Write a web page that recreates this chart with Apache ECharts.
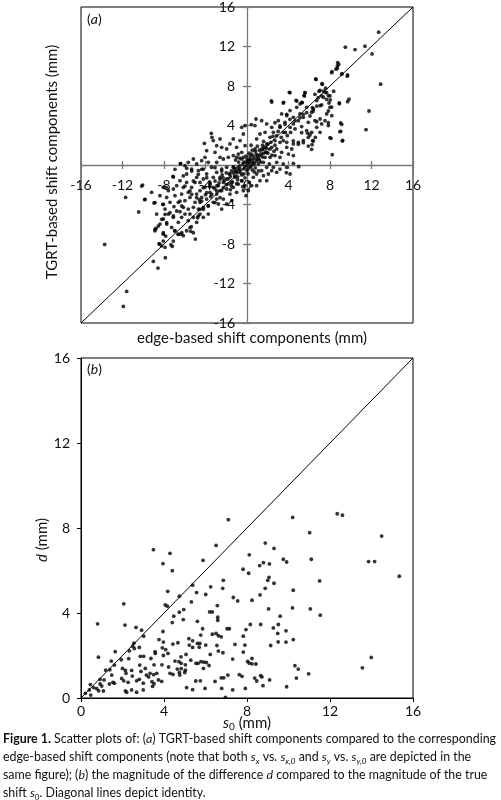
<!DOCTYPE html>
<html>
<head>
<meta charset="utf-8">
<script src="https://cdn.jsdelivr.net/npm/echarts@6/dist/echarts.min.js"></script>
<style>html,body{margin:0;padding:0;background:#fff;}#c{width:501px;height:800px;}</style>
</head>
<body>
<div id="c"></div>
<script>
// Panel (a): [edge-based shift, TGRT-based shift] (mm)
var pointsA = [
[12.69,13.45],[9.48,11.93],[10.41,11.69],[11.37,12.03],[12.05,11.25],[12.88,8.18],[11.76,5.47],[11.47,3.58],
[8.74,10.37],[8.71,10.03],[8.58,9.7],[8.19,9.46],[9.16,9.26],[9.7,9.12],[6.62,8.72],[7.23,8.24],[5.59,7.33],
[7.58,7.77],[8.35,7.47],[6.94,7.47],[4.08,7.36],[2.35,6.49],[3.53,6.35],[4.72,6.55],[9.83,6.66],[8.9,6.28],
[8.03,6.59],[7.9,6.28],[9.03,4.26],[9.03,3.41],[9.22,2.5],[8.0,2.77],[8.22,1.05],[6.33,2.47],[5.85,3.21],
[4.98,-0.17],[4.47,0.17],[3.79,-0.78],
[5.5,7.03],[5.27,6.35],[5.75,5.84],[6.23,5.34],[6.4,5.68],[6.72,6.52],[7.04,6.01],[7.36,6.86],[7.52,7.36],
[7.84,7.03],[8.0,5.84],[8.17,5.0],[7.68,5.17],[7.04,4.66],[6.55,4.49],[5.91,4.32],[5.43,4.83],[5.11,5.17],
[4.95,4.49],[4.47,4.16],[4.15,3.82],[4.63,3.65],[5.27,3.89],[5.75,3.48],[6.23,3.31],[5.91,2.8],[5.43,2.47],
[4.95,2.3],[4.47,2.13],[4.31,1.62],[3.99,1.11],[4.47,0.95],[3.83,1.79],[3.5,2.47],[3.89,2.97],[3.5,3.31],
[3.18,3.82],[3.67,4.32],[3.02,4.49],[3.83,5.0],[3.34,5.17],[4.15,5.51],[4.79,5.84],[5.11,6.18],[4.47,4.83],
[6.72,3.82],[7.2,4.16],[7.52,4.49],[7.04,3.31],[7.84,3.99],[6.59,2.8],[6.27,2.06],
[8.84,10.2],[8.7,9.8],[8.16,9.35],[9.13,9.18],[9.67,9.0],[6.65,8.67],[7.26,8.17],[2.38,6.38],[3.5,6.28],
[4.14,7.32],[5.59,7.32],[5.53,6.99],[4.79,6.48],[5.33,6.31],[6.55,7.16],[7.04,7.56],[7.36,7.49],[7.68,7.32],
[6.87,6.82],[7.2,6.99],[7.68,6.65],[8.0,6.99],[8.9,6.21],[9.7,6.41],[8.16,5.87],[7.84,5.47],[7.2,6.08],
[6.72,5.97],[6.39,5.47],[6.07,4.96],[6.3,5.8],[5.75,5.3],[5.43,5.13],[5.11,4.79],[4.63,4.46],[4.14,4.63],
[3.83,5.13],[3.66,4.12],[3.18,3.95],[2.7,4.28],[6.72,4.39],[7.84,4.28],[9.13,4.12],[8.96,3.37],[8.1,2.7],
[9.19,2.43],[6.07,3.04],[6.39,2.43],[5.27,3.27],[4.46,2.43],[4.95,2.1],[5.43,2.26],[5.91,1.92],[6.23,1.59],
[2.54,3.31],[2.22,2.8],[2.7,2.47],[1.9,2.13],[2.38,1.79],[1.58,1.62],[2.86,1.62],[3.34,1.28],[1.9,1.28],
[1.25,0.95],[1.74,0.78],[2.22,0.78],[2.7,0.95],[3.18,0.78],[0.93,0.61],[0.61,0.27],[1.09,0.1],[1.58,0.27],
[2.86,0.27],[3.5,0.1],[0.77,1.62],[0.45,1.11],[0.29,0.61],[0.93,2.64],[1.25,3.14],[1.74,3.31],[0.77,3.99],
[0.42,4.09],[0.87,4.66],[1.41,4.49],[1.9,4.16],[2.38,3.82],[2.86,2.97],[3.18,2.3],[3.83,2.3],[2.15,0.1],
[2.54,-0.24],[3.18,-0.41],[3.83,-0.24],[2.38,-0.57],[1.9,-0.24],[1.41,-0.57],[0.93,-0.91],[0.61,-1.25],
[0.45,-2.09],[0.13,-2.6],[-0.1,-3.11],[0.22,-1.76],[1.58,-1.08],[2.06,-0.91],
[0,0],[0.3,0.5],[-0.3,-0.4],[0.6,0.9],[-0.6,-0.8],[0.9,0.4],[-0.9,-0.3],[0.2,1.2],[-0.2,-1.3],[1.2,1.5],
[-1.2,-1.1],[0.5,-0.5],[-0.5,0.6],[1.5,0.8],[-1.5,-0.6],[1.0,1.9],[-1.0,-1.9],[0.1,-0.9],[-0.1,0.9],
[1.8,1.3],[-1.8,-1.4],[0.7,0.1],[-0.7,-0.1],[1.3,0.3],[-1.3,-0.2],[0.4,2.0],[-0.4,-2.2],[2.0,2.1],
[-2.0,-2.0],[1.6,2.4],[-1.6,-2.5],[0.8,-0.3],[-0.8,0.3],[2.4,1.0],[-2.4,-1.0],[1.1,-0.6],[-1.1,0.5],
[0.2,0.2],[-0.2,-0.2],[1.4,1.1],[-1.4,-1.7],[0.5,0.2],[-0.4,0.1],[0.1,0.4],[0.9,1.1],[-0.9,-1.2],
[1.7,1.8],[-1.7,-0.9],[0.3,-0.2],[-0.3,0.3],[1.1,0.7],[-1.1,-0.6],[2.2,1.6],[-2.2,-1.6],
[0.6,0.6],[1.0,0.9],[1.4,1.6],[1.9,1.7],[2.3,2.3],[2.7,2.0],[3.0,3.4],[2.5,2.9],[1.6,1.2],[0.8,1.4],
[0.3,0.9],[-0.3,-0.9],[-0.8,-0.6],[-1.3,-0.8],[-1.8,-1.9],[-2.3,-1.3],[-2.7,-1.8],[-3.1,-2.4],[-3.5,-3.2],
[-2.9,-2.1],[-1.6,-1.2],[-0.9,-1.5],[-0.5,-1.0],[0.1,-0.4],[0.4,-0.1],[-0.1,0.3],[1.2,0.5],[-1.2,-0.4],
[2.0,1.2],[-2.0,-0.8],[3.3,2.8],[3.7,3.3],[4.2,3.3],[-3.6,-2.2],[-4.0,-3.0],[-4.6,-3.5],[0.7,-0.7],
[-0.7,0.7],[1.5,2.0],[-1.5,-2.1],[2.6,1.4],[-2.6,-2.6],[0.0,0.6],[0.0,-0.6],[0.5,1.5],[-0.5,-1.6],
[-1.32,2.64],[-1.64,2.13],[-1.0,1.79],[-0.67,2.47],[-0.35,3.14],[-0.51,3.82],[-0.19,3.99],[-0.84,1.11],
[-1.32,0.95],[-1.8,0.78],[-2.28,0.61],[-2.6,0.78],[-2.92,0.27],[-3.08,1.28],[-3.89,1.45],[-4.05,0.78],
[-3.73,0.27],[-4.37,0.44],[-4.85,0.1],[-5.17,0.61],[-5.66,0.27],[-1.96,1.62],[-2.44,1.79],[-2.92,1.96],
[-3.25,2.47],[-2.6,2.64],[-1.0,0.78],[-0.51,1.28],[-0.35,0.78],[-0.19,1.96],[-3.44,3.21],[-3.38,2.8],
[-6.43,0.14],[-4.11,2.2],
[1.25,-1.59],[0.93,-2.09],[1.9,-1.59],[2.86,-0.74],[4.15,-0.91],
[-0.67,-0.41],[-1.0,-0.74],[-1.32,-0.24],[-1.64,-0.91],[-1.16,-1.25],[-1.96,-1.42],[-1.48,-1.76],
[-2.28,-1.76],[-2.6,-1.25],[-2.92,-0.74],[-3.25,-1.25],[-3.57,-1.76],[-3.89,-0.91],[-4.21,-1.42],
[-4.53,-1.76],[-4.05,-2.26],[-4.53,-2.6],[-4.85,-2.94],[-4.37,-3.28],[-3.89,-3.45],[-3.57,-2.77],
[-3.25,-2.26],[-2.76,-2.09],[-2.44,-2.6],[-2.92,-2.94],[-1.96,-2.43],[-1.64,-2.94],[-2.28,-3.45],
[-2.76,-3.95],[-3.25,-3.78],[-3.73,-4.12],[-4.21,-4.29],[-4.69,-4.46],[-5.17,-4.29],[-5.01,-3.78],
[-5.5,-3.28],[-5.66,-2.77],[-5.34,-2.26],[-5.01,-1.76],[-5.82,-1.76],[-6.14,-2.26],[-6.3,-2.94],
[-5.98,-3.61],[-5.66,-4.46],[-5.5,-4.97],[-6.14,-4.29],[-6.62,-3.78],[-6.94,-3.11],[-7.1,-2.43],
[-7.58,-2.6],[-7.74,-3.28],[-7.42,-3.78],[-7.9,-4.46],[-7.58,-4.97],[-7.1,-5.3],[-8.07,-5.47],
[-7.74,-5.98],[-7.26,-6.32],[-6.62,-5.81],[-6.3,-5.3],[-5.98,-4.97],[-5.66,-5.64],[-5.17,-5.3],
[-4.53,-4.97],[-4.21,-5.3],[-4.85,-5.81],[-4.53,-3.78],[-3.73,-4.97],[-2.92,-3.45],[-1.32,-2.26],
[-0.84,-1.93],[-0.51,-1.59],[-0.19,-2.09],[-0.35,-2.6],[-1.0,-2.77],[-1.48,-3.61],[-1.96,-3.95],
[-2.44,-4.46],[-6.46,-1.59],[-6.78,-2.09],[-5.82,-0.91],[-4.69,-0.57],[-5.34,-0.41],[-5.98,-0.07],
[-4.21,-0.41],[-3.41,-0.24],[-2.44,-0.41],[-1.96,-0.24],[-4.85,-1.25],[-8.07,-2.26],[-8.39,-3.11],
[-8.71,-4.97],[-8.39,-5.98],[-8.87,-6.66],[-8.07,-7.0],[-6.62,-7.0],[-5.82,-6.66],[-6.14,-7.16],
[-8.23,-8.18],[-7.9,-8.34],
[-10.06,-2.03],[-11.7,-3.28],[-9.19,-2.77],[-9.86,-3.51],[-8.96,-3.85],[-10.44,-4.76],[-13.72,-8.04],
[-8.77,-6.42],[-8.1,-3.99],[-7.78,-2.26],[-7.13,-1.15],[-8.48,-7.97],[-9.03,-9.76],[-8.58,-10.44],
[-7.87,-9.39],[-7.33,-8.07],[-7.2,-8.25],[-11.6,-12.8],[-11.92,-14.32],[-7.84,-7.2],[-6.97,-6.66],
[-6.36,-6.99],[-4.98,-7.5],[-5.43,-6.72],[-5.37,-6.25],[-4.76,-5.34],[-6.46,-4.73],[-7.04,-4.22],
[-6.39,0.13],[-10.15,-2.13],[-9.83,-3.48],[-8.87,-3.81],[-8.07,-3.98],[-7.1,-1.22],[-6.94,-0.44],
[-6.14,-1.11],[-5.81,-0.34],[-5.33,-0.61],[-5.98,-2.13],[-5.49,-2.63],[-5.33,-2.97],[-6.46,-3.65],
[-6.29,-4.15],[-6.78,-4.66],[-7.1,-5.16],[-7.42,-4.83],[-7.9,-4.99],[-7.74,-5.84],[-8.22,-5.5],
[-8.55,-6.18],[-8.87,-6.51],[-8.07,-6.86],[-6.94,-6.68],[-6.62,-7.02],[-5.49,-6.35],[-5.17,-6.86],
[-6.29,-6.86],[-7.1,-7.7],[-8.07,-7.7],[-8.39,-8.03],[-4.69,-5.16],[-4.53,-4.49],[-4.37,-3.65],
[-4.85,-3.31],[-5.17,-1.62],[-4.69,-0.94],[-4.37,-0.44],[-3.88,-1.29],[-3.57,-1.95],[-4.21,-2.3],
[-3.88,-2.8],[-3.4,-2.97],[-2.92,-2.63],[-3.08,-1.62],[-2.6,-1.45],[-2.44,-0.61],[-3.08,-0.27],
[-2.28,-2.3],[-2.6,-3.31],[-3.08,-3.81],[-3.73,-4.15],[-4.21,-4.49]
];

// Panel (b): [s0, d] (mm)
var pointsB = [
[7.10,8.39],[10.2,8.5],[12.35,8.67],[12.6,8.6],[11.02,7.78],[14.49,7.62],[3.49,6.98],[4.29,6.81],[6.51,7.18],
[8.88,7.29],[9.3,7.04],[8.11,6.74],[3.95,6.32],[5.88,6.48],[11.1,6.53],[9.75,6.53],[9.91,6.4],[8.79,6.37],
[9.08,6.31],[8.61,6.23],[13.86,6.42],[14.15,6.42],[4.40,5.99],[7.81,6.06],[8.08,5.87],[9.06,5.68],[9.0,5.54],
[9.30,5.4],[11.5,5.51],[15.34,5.73],[6.86,5.54],[5.38,5.31],[6.25,5.23],[6.83,5.16],[8.88,5.16],[4.18,5.02],
[5.57,4.96],[6.01,4.87],[4.74,4.79],[10.23,5.07],[8.63,4.85],[7.34,4.73],[7.55,4.57],[8.24,4.6],[5.32,4.52],
[4.06,4.38],[4.16,4.32],[6.57,4.35],[2.06,4.43],[9.04,4.19],[10.19,4.24],[11.05,4.19],[4.74,4.04],[4.95,4.16],
[6.2,4.05],[6.33,4.05],[4.47,3.85],[9.6,3.85],[11.53,3.9],[6.59,3.8],[6.59,3.66],[4.93,3.69],[5.61,3.61],
[4.4,3.55],[0.8,3.49],[2.12,3.43],[8.16,3.46],[8.66,3.46],[2.65,3.32],[2.92,3.19],[5.86,3.26],[7.04,3.26],
[7.15,3.26],[7.95,3.22],[9.27,3.3],[9.51,3.46],[9.88,3.16],[9.48,3.04],[3.95,3.13],[5.77,2.96],[6.33,3.0],
[6.51,3.04],[6.62,2.93],[6.76,2.88],[7.82,2.91],[3.02,2.91],[5.2,2.79],[5.38,2.69],[3.76,2.75],[10.23,2.75],
[9.5,2.64],[9.88,2.63],[3.97,2.63],[4.67,2.6],[2.55,2.58],[2.49,2.44],[2.57,2.33],[2.81,2.38],[5.61,2.57],
[5.73,2.57],[4.43,2.54],[5.22,2.49],[5.38,2.38],[6.01,2.49],[6.55,2.47],[7.42,2.52],[7.9,2.49],[9.14,2.47],
[5.7,2.39],[3.92,2.36],[4.08,2.28],[2.86,1.96],[3.02,1.96],[1.65,2.18],[2.33,2.22],[3.57,2.18],[3.58,2.1],
[6.62,2.21],[6.84,2.13],[7.82,2.16],[4.19,2.1],[6.23,2.05],[5.06,2.05],[3.97,2.0],[0.84,1.92],[4.82,1.94],
[13.99,1.91],[3.37,1.86],[2.3,1.85],[7.31,1.83],[8.24,1.86],[8.03,1.72],[5.29,1.78],[8.11,1.64],[8.24,1.61],
[8.43,1.6],[1.46,1.74],[1.94,1.8],[4.53,1.74],[5.78,1.71],[5.91,1.69],[6.04,1.67],[5.54,1.63],[5.64,1.63],
[6.17,1.53],[4.72,1.71],[4.83,1.63],[5.03,1.56],[3.52,1.56],[3.9,1.56],[2.83,1.55],[1.61,1.55],[5.9,1.39],
[10.31,1.52],[10.47,1.36],[13.56,1.42],[3.1,1.39],[4.22,1.46],[2.0,1.39],[1.39,1.33],[1.19,1.31],[2.44,1.3],
[4.64,1.36],[4.83,1.38],[5.03,1.31],[5.0,1.2],[2.14,1.3],[2.17,1.16],[2.89,1.25],[3.33,1.16],[3.5,1.1],
[3.65,1.16],[4.74,1.2],[4.29,1.16],[4.43,1.11],[4.76,1.08],[1.48,1.08],[7.63,1.1],[7.76,1.02],[7.08,1.08],
[6.76,0.95],[6.88,0.95],[8.72,0.99],[8.66,1.05],[8.37,0.94],[8.47,0.8],[10.97,1.14],[10.38,0.94],[9.09,0.85],
[3.15,1.08],[3.26,0.99],[2.47,1.03],[1.96,0.92],[2.06,0.81],[2.27,0.74],[0.92,0.88],[1.11,0.85],[1.54,0.74],
[1.61,0.69],[1.37,0.66],[2.81,0.88],[2.68,0.81],[3.42,0.77],[3.0,0.7],[3.52,0.67],[3.45,0.55],[3.73,0.85],
[3.89,0.78],[5.53,0.8],[5.75,0.81],[6.46,0.78],[0.92,0.66],[0.45,0.63],[0.61,0.49],[0.76,0.44],[1.0,0.56],
[1.08,0.33],[0.85,0.34],[0.4,0.38],[0.21,0.22],[0.47,0.14],[2.14,0.34],[2.2,0.27],[2.44,0.38],[2.68,0.27],
[3.0,0.38],[5.09,0.49],[5.38,0.39],[5.98,0.45],[6.78,0.45],[6.96,0.03],[7.31,0.38],[7.92,0.45],[8.77,0.58],
[9.91,0.53]
];

var identityA = [-16, 16];
var identityB = [0, 16];
var ticksA = [-16, -12, -8, -4, 0, 4, 8, 12, 16];
var ticksB = [0, 4, 8, 12, 16];

var FONT = 'Lato';
var GA = {left: 81, top: 7, width: 332, height: 316};
var GB = {left: 81, top: 358, width: 332, height: 340};
var chart = echarts.init(document.getElementById('c'), null, {renderer: 'canvas'});

function lbl(extra) {
  return Object.assign({color: '#111', fontSize: 14, fontFamily: FONT}, extra || {});
}
var grey = {color: '#777', width: 1.3};

var option = {
  animation: false,
  backgroundColor: '#fff',
  grid: [
    Object.assign({show: true, borderColor: '#000', borderWidth: 1, backgroundColor: 'transparent'}, GA),
    Object.assign({show: true, borderColor: '#000', borderWidth: 1, backgroundColor: 'transparent'}, GB)
  ],
  xAxis: [
    {gridIndex: 0, type: 'value', min: ticksA[0], max: ticksA[ticksA.length - 1], interval: 4,
     position: 'bottom', offset: -GA.height / 2,
     axisLine: {onZero: false, lineStyle: grey},
     axisTick: {show: true, length: 4, lineStyle: grey},
     axisLabel: lbl({margin: 13}), splitLine: {show: false}},
    {gridIndex: 0, type: 'value', min: ticksA[0], max: ticksA[ticksA.length - 1], interval: 4,
     position: 'bottom', offset: -GA.height / 2,
     axisLine: {show: false, onZero: false},
     axisTick: {show: true, inside: true, length: 4, lineStyle: grey},
     axisLabel: {show: false}, splitLine: {show: false}},
    {gridIndex: 1, type: 'value', min: ticksB[0], max: ticksB[ticksB.length - 1], interval: 4,
     axisLine: {onZero: false, lineStyle: {color: '#000', width: 1}},
     axisTick: {show: true, length: 4, lineStyle: {color: '#000'}},
     axisLabel: lbl({margin: 6}), splitLine: {show: false}}
  ],
  yAxis: [
    {gridIndex: 0, type: 'value', min: ticksA[0], max: ticksA[ticksA.length - 1], interval: 4,
     position: 'left', offset: -GA.width / 2,
     axisLine: {onZero: false, lineStyle: grey},
     axisTick: {show: true, length: 4, lineStyle: grey},
     axisLabel: lbl({margin: 12, formatter: function (v) { return v === 0 ? '' : String(v); }}),
     splitLine: {show: false}},
    {gridIndex: 0, type: 'value', min: ticksA[0], max: ticksA[ticksA.length - 1], interval: 4,
     position: 'left', offset: -GA.width / 2,
     axisLine: {show: false, onZero: false},
     axisTick: {show: true, inside: true, length: 4, lineStyle: grey},
     axisLabel: {show: false}, splitLine: {show: false}},
    {gridIndex: 1, type: 'value', min: ticksB[0], max: ticksB[ticksB.length - 1], interval: 4,
     axisLine: {onZero: false, lineStyle: {color: '#000', width: 1}},
     axisTick: {show: true, length: 4, lineStyle: {color: '#000'}},
     axisLabel: lbl({margin: 11}), splitLine: {show: false}}
  ],
  series: [
    {type: 'line', xAxisIndex: 0, yAxisIndex: 0, data: [[identityA[0], identityA[0]], [identityA[1], identityA[1]]],
     symbol: 'none', lineStyle: {color: '#000', width: 1}, z: 3, silent: true},
    {type: 'scatter', xAxisIndex: 0, yAxisIndex: 0, data: pointsA, symbolSize: 3.8,
     itemStyle: {color: '#000'}, z: 4},
    {type: 'line', xAxisIndex: 2, yAxisIndex: 2, data: [[identityB[0], identityB[0]], [identityB[1], identityB[1]]],
     symbol: 'none', lineStyle: {color: '#000', width: 1}, z: 3, silent: true},
    {type: 'scatter', xAxisIndex: 2, yAxisIndex: 2, data: pointsB, symbolSize: 3.8,
     itemStyle: {color: '#000'}, z: 4}
  ],
  graphic: [
    {type: 'text', left: 87, top: 12, style: {text: '({i|a})', fill: '#111', font: '14px ' + FONT,
      rich: {i: {fontStyle: 'italic', fontSize: 14, fontFamily: FONT, fill: '#111'}}}},
    {type: 'text', left: 87, top: 362, style: {text: '({i|b})', fill: '#111', font: '14px ' + FONT,
      rich: {i: {fontStyle: 'italic', fontSize: 14, fontFamily: FONT, fill: '#111'}}}},
    {type: 'text', x: 52, y: 162, rotation: Math.PI / 2,
     style: {text: 'TGRT-based shift components (mm)', fill: '#111', font: '15px ' + FONT, textAlign: 'center', textVerticalAlign: 'middle'}},
    {type: 'text', x: 252, y: 338,
     style: {text: 'edge-based shift components (mm)', fill: '#111', font: '15px ' + FONT, textAlign: 'center', textVerticalAlign: 'middle'}},
    {type: 'text', x: 42, y: 540, rotation: Math.PI / 2,
     style: {text: '{i|d} (mm)', fill: '#111', font: '15px ' + FONT, textAlign: 'center', textVerticalAlign: 'middle',
      rich: {i: {fontStyle: 'italic', fontSize: 15, fontFamily: FONT, fill: '#111'}}}},
    {type: 'text', x: 247, y: 723,
     style: {text: '{i|s}{sub|0} (mm)', fill: '#111', font: '15px ' + FONT, textAlign: 'center', textVerticalAlign: 'middle',
      rich: {i: {fontStyle: 'italic', fontSize: 15, fontFamily: FONT, fill: '#111', lineHeight: 18},
             sub: {fontSize: 10, fontFamily: FONT, fill: '#111', verticalAlign: 'bottom', lineHeight: 12}}}}
  ]
};

var CS = 12.4;
var capRich = {
  b: {fontWeight: 'bold', fontSize: CS, fontFamily: FONT, fill: '#111', lineHeight: 16},
  i: {fontStyle: 'italic', fontSize: CS, fontFamily: FONT, fill: '#111', lineHeight: 16},
  n: {fontSize: CS, fontFamily: FONT, fill: '#111', lineHeight: 16},
  sub: {fontStyle: 'italic', fontSize: 8, fontFamily: FONT, fill: '#111', lineHeight: 10, verticalAlign: 'bottom'},
  subn: {fontSize: 8, fontFamily: FONT, fill: '#111', lineHeight: 10, verticalAlign: 'bottom'}
};
var capLines = [
  '{b|Figure 1.}{n| Scatter plots of: (}{i|a}{n|) TGRT-based shift components compared to the corresponding}',
  '{n|edge-based shift components (note that both }{i|s}{sub|x}{n| vs. }{i|s}{sub|x,0}{n| and }{i|s}{sub|y}{n| vs. }{i|s}{sub|y,0}{n| are depicted in the}',
  '{n|same figure); (}{i|b}{n|) the magnitude of the difference }{i|d}{n| compared to the magnitude of the true}',
  '{n|shift }{i|s}{subn|0}{n|. Diagonal lines depict identity.}'
];
var capY = [739, 757, 775, 793];
capLines.forEach(function (t, k) {
  option.graphic.push({type: 'text', x: 3, y: capY[k],
    style: {text: t, rich: capRich, textVerticalAlign: 'middle', font: CS + 'px ' + FONT, fill: '#111'}});
});

chart.setOption(option);
</script>
</body>
</html>
